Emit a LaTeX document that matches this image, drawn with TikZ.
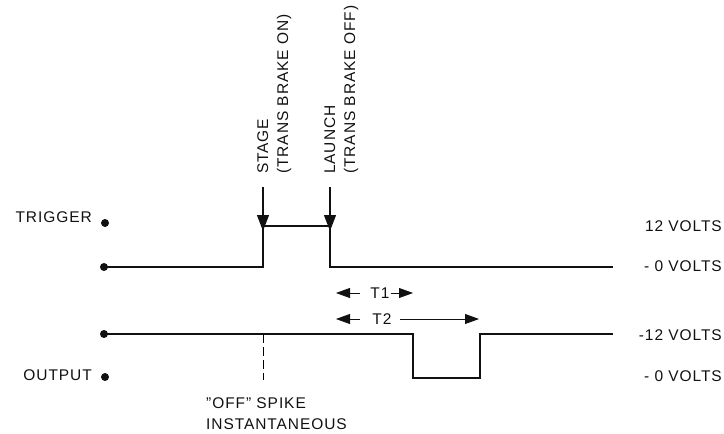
\documentclass[tikz,border=0pt]{standalone}
\usepackage{fontspec}
\setmainfont{Liberation Sans}[LetterSpace=6]
\usepackage{xcolor}
\usetikzlibrary{arrows.meta,positioning}
\definecolor{ink}{HTML}{111111}
\tikzset{
  lbl/.style={font=\fontsize{15.5}{20}\selectfont,text=ink,inner sep=0pt},
  vlbl/.style={lbl,anchor=east},
  dot/.style={circle,fill=ink,minimum size=8pt,inner sep=0pt},
  wave/.style={line width=2pt,color=ink},
  evarrow/.style={-{Triangle[length=16pt,width=12pt]},line width=1.1pt,color=ink},
  tarrow/.style={-{Triangle[length=14pt,width=10pt]},line width=0.8pt,color=ink},
}
\begin{document}
\begin{tikzpicture}[x=1pt,y=-1pt]
    \useasboundingbox (0,0) rectangle (724,434);
    % signal dots
    \node[dot] (trighi) at (105,223) {};
    \node[dot] (triglo) at (104,267) {};
    \node[dot] (outhi) at (104,334) {};
    \node[dot] (outlo) at (105,377) {};
    \node[lbl,anchor=east] (trig) at (92,217) {TRIGGER};
    \node[lbl,anchor=east] (out) at (92,375) {OUTPUT};
    % waveforms
    \coordinate (stage) at (263,226); \coordinate (launch) at (330,226);
    \coordinate (drop) at (413,334); \coordinate (rise) at (480,334);
    \draw[wave] (triglo.center) -- (stage|-triglo) -- (stage) -- (launch) -- (launch|-triglo) -- (613,267);
    \draw[wave] (outhi.center) -- (drop) -- (413,378) -- (480,378) -- (rise) -- (613,334);
    \draw[line width=0.8pt,dash pattern=on 9pt off 4pt] (263,334) -- (263,380);
    % event marks
    \coordinate (stagetop) at (263,187); \coordinate (launchtop) at (330,187);
    \draw[evarrow] (stagetop) -- ([yshift=-5pt]stage);
    \draw[evarrow] (launchtop) -- ([yshift=-5pt]launch);
    \node[lbl,rotate=90,anchor=north west,align=left] (stagetxt) at (257,174) {STAGE\\(TRANS BRAKE ON)};
    \node[lbl,rotate=90,anchor=north west,align=left] (launchtxt) at (324,174) {LAUNCH\\(TRANS BRAKE OFF)};
    % timing
    \node[lbl] (t1) at (380,293) {T1};
    \node[lbl] (t2) at (382,319) {T2};
    \coordinate (t1end) at (413,293); \coordinate (t2end) at (479,319);
    \draw[tarrow] (360,293) -- (336,293);
    \draw[tarrow] ([xshift=1pt]t1.east) -- (t1end);
    \draw[tarrow] (360,319) -- (336,319);
    \draw[tarrow] ([xshift=8pt]t2.east) -- (t2end);
    % levels
    \node[vlbl] (v12) at (722,226) {12 VOLTS};
    \node[vlbl] (v0a) at (722,266) {- 0 VOLTS};
    \node[vlbl] (vm12) at (722,335) {-12 VOLTS};
    \node[vlbl] (v0b) at (722,376) {- 0 VOLTS};
    \node[lbl,anchor=north west,align=left] (spike) at (206,397) {"OFF" SPIKE\\[1pt]INSTANTANEOUS};
  \end{tikzpicture}
\end{document}
